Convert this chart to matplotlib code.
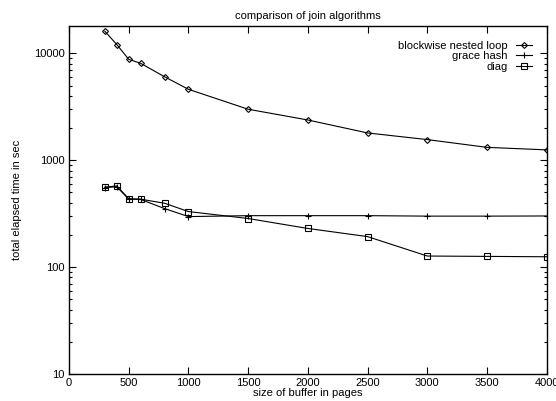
import numpy as np
import matplotlib
matplotlib.use('Agg')
import matplotlib.pyplot as plt
from matplotlib.ticker import LogLocator, FixedLocator, NullFormatter

plt.rcParams['font.family'] = ['Liberation Sans', 'DejaVu Sans']
plt.rcParams['font.size'] = 8

# buffer sizes (pages)
buffer_pages = [300, 400, 500, 600, 800, 1000, 1500, 2000, 2500, 3000, 3500, 4000]

# elapsed time in seconds
nested_loop = [16100, 12100, 8790, 8070, 6040, 4610, 3000, 2380, 1800, 1560, 1320, 1250]
grace_hash = [555, 565, 432, 430, 353, 297, 303, 303, 303, 300, 300, 301]
diag = [560, 575, 437, 432, 396, 331, 285, 230, 193, 127, 126, 125]

x_ticks = [0, 500, 1000, 1500, 2000, 2500, 3000, 3500, 4000]
y_ticks = [10, 100, 1000, 10000]


def main():
	fig = plt.figure(figsize=(5.56, 4.01), dpi=100)
	ax = fig.add_axes([0.1241, 0.0673, 0.8592, 0.8677])

	style = dict(color='black', linewidth=0.8, markerfacecolor='none',
		markeredgecolor='black', markeredgewidth=0.8)
	ax.plot(buffer_pages, nested_loop, marker='D', markersize=3, label='blockwise nested loop', **style)
	ax.plot(buffer_pages, grace_hash, marker='+', markersize=5, label='grace hash', **style)
	ax.plot(buffer_pages, diag, marker='s', markersize=4, label='diag', **style)

	ax.set_yscale('log')
	ax.set_xlim(0, 4000)
	ax.set_ylim(10, 18000)
	ax.xaxis.set_major_locator(FixedLocator(x_ticks))
	ax.yaxis.set_major_locator(FixedLocator(y_ticks))
	ax.set_yticklabels([str(v) for v in y_ticks])
	ax.yaxis.set_minor_locator(LogLocator(base=10, subs=np.arange(2, 10)))
	ax.yaxis.set_minor_formatter(NullFormatter())

	ax.tick_params(which='both', direction='in', top=True, right=True, width=0.8, pad=3)
	ax.tick_params(which='major', length=5)
	ax.tick_params(which='minor', length=2.5)
	for s in ax.spines.values():
		s.set_linewidth(1.0)

	ax.set_title('comparison of join algorithms', fontsize=8, pad=5)
	ax.set_xlabel('size of buffer in pages', labelpad=0)
	ax.set_ylabel('total elapsed time in sec', labelpad=9)

	ax.legend(loc='upper right', frameon=False, markerfirst=False, handlelength=1.5,
		handletextpad=0.7, labelspacing=0.05, borderaxespad=0.9, fontsize=8)

	fig.savefig('out.png', dpi=100)


if __name__ == '__main__':
	main()
